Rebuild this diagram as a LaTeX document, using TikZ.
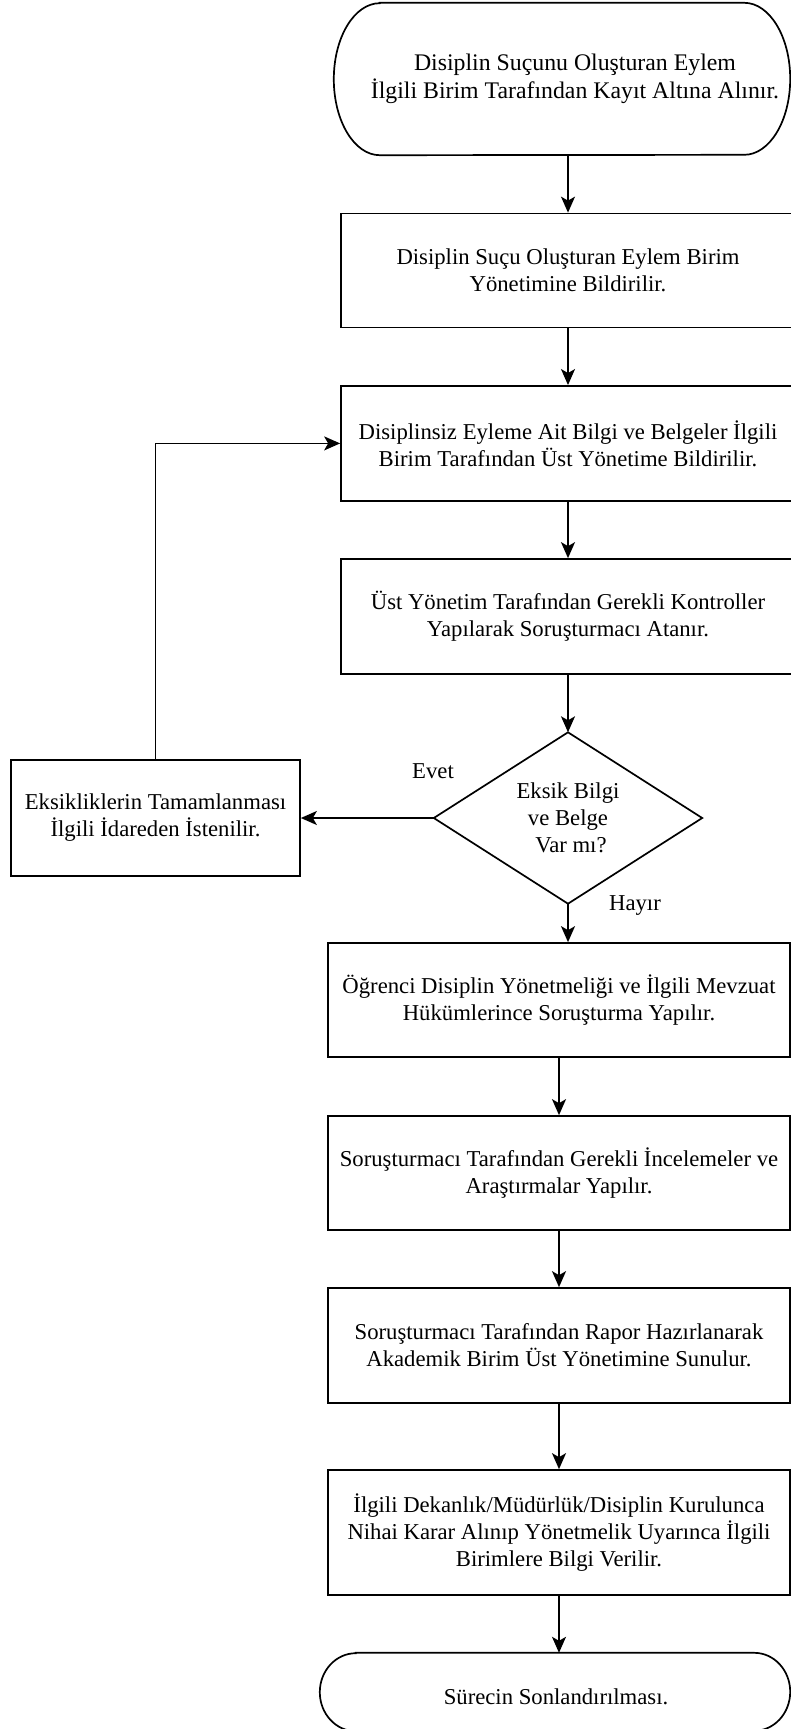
\documentclass[tikz,border=0pt]{standalone}
\usepackage{fontspec}
\setmainfont{Liberation Serif}
\usetikzlibrary{arrows.meta}
\tikzset{
  flowline/.style={line width=1.7pt, draw=black},
  flowarrow/.style={flowline, -{Stealth[length=16pt, width=14pt, inset=4pt]}},
  procbox/.style={draw=black, line width=1.7pt, rectangle, inner sep=0pt, align=center,
    font=\fontsize{22.7}{27}\selectfont},
  invisbox/.style={draw=none, rectangle, inner sep=0pt, align=center,
    font=\fontsize{22.7}{27}\selectfont},
  lbl/.style={inner sep=0pt, font=\fontsize{22.7}{27}\selectfont},
}
\begin{document}
\begin{tikzpicture}[x=1pt, y=-1pt]
\useasboundingbox (0,0) rectangle (791,1729);
\clip (0,0) rectangle (791,1729);

% start terminal
\node[invisbox, minimum width=456pt, minimum height=152pt] (t1) at (562,79) {};
\node[invisbox, font=\fontsize{23.8}{27.5}\selectfont] (t1txt) at (575,79)
  {Disiplin Suçunu Oluşturan Eylem\\İlgili Birim Tarafından Kayıt Altına Alınır.};
\draw[flowline] ([xshift=46pt]t1.north west) -- ([xshift=-46pt]t1.north east)
  arc[start angle=90, end angle=-90, x radius=46pt, y radius=76pt]
  -- ([xshift=46pt]t1.south west)
  arc[start angle=270, end angle=90, x radius=46pt, y radius=76pt] -- cycle;

\node[procbox, minimum width=454pt, minimum height=114pt] (b2) at (568,270.5)
  {Disiplin Suçu Oluşturan Eylem Birim\\Yönetimine Bildirilir.};
\node[procbox, minimum width=454pt, minimum height=115pt] (b3) at (568,443.4)
  {Disiplinsiz Eyleme Ait Bilgi ve Belgeler İlgili\\Birim Tarafından Üst Yönetime Bildirilir.};
\node[procbox, minimum width=454pt, minimum height=115pt] (b4) at (568,616.5)
  {Üst Yönetim Tarafından Gerekli Kontroller\\Yapılarak Soruşturmacı Atanır.};

% decision
\node[invisbox, minimum width=268pt, minimum height=171pt] (d) at (568,818)
  {Eksik Bilgi\\ve Belge\\\hspace{6pt}Var mı?};
\draw[flowline] (d.north) -- (d.east) -- (d.south) -- (d.west) -- cycle;

\node[procbox, minimum width=289pt, minimum height=116pt] (e) at (155.5,818)
  {Eksikliklerin Tamamlanması\\İlgili İdareden İstenilir.};

\node[procbox, minimum width=462pt, minimum height=114pt] (b5) at (559,1000)
  {Öğrenci Disiplin Yönetmeliği ve İlgili Mevzuat\\Hükümlerince Soruşturma Yapılır.};
\node[procbox, minimum width=462pt, minimum height=114pt] (b6) at (559,1173)
  {Soruşturmacı Tarafından Gerekli İncelemeler ve\\Araştırmalar Yapılır.};
\node[procbox, minimum width=462pt, minimum height=115pt] (b7) at (559,1345.5)
  {Soruşturmacı Tarafından Rapor Hazırlanarak\\Akademik Birim Üst Yönetimine Sunulur.};
\node[procbox, minimum width=462pt, minimum height=125pt] (b8) at (559,1532.5)
  {İlgili Dekanlık/Müdürlük/Disiplin Kurulunca\\Nihai Karar Alınıp Yönetmelik Uyarınca İlgili\\Birimlere Bilgi Verilir.};

% end terminal
\node[invisbox, minimum width=470pt, minimum height=78pt] (t2) at (555,1692) {};
\node[invisbox] (t2txt) at (556,1697) {Sürecin Sonlandırılması.};
\draw[flowline] ([xshift=36pt]t2.north west) -- ([xshift=-36pt]t2.north east)
  arc[start angle=90, end angle=-90, x radius=36pt, y radius=39pt]
  -- ([xshift=36pt]t2.south west)
  arc[start angle=270, end angle=90, x radius=36pt, y radius=39pt] -- cycle;

% labels
\node[lbl] (evet) at (433,771) {Evet};
\node[lbl] (hayir) at (635,906) {Hayır};

% connectors
\draw[flowarrow] (t1.south -| b2.north) -- (b2.north);
\draw[flowarrow] (b2.south) -- (b3.north);
\draw[flowarrow] (b3.south) -- (b4.north);
\draw[flowarrow] (b4.south) -- (d.north);
\draw[flowarrow] (d.west) -- (e.east);
\draw[flowarrow] (e.north) |- (b3.west);
\draw[flowarrow] (d.south) -- (d.south |- b5.north);
\draw[flowarrow] (b5.south) -- (b6.north);
\draw[flowarrow] (b6.south) -- (b7.north);
\draw[flowarrow] (b7.south) -- (b8.north);
\draw[flowarrow] (b8.south) -- (b8.south |- t2.north);
\end{tikzpicture}
\end{document}
